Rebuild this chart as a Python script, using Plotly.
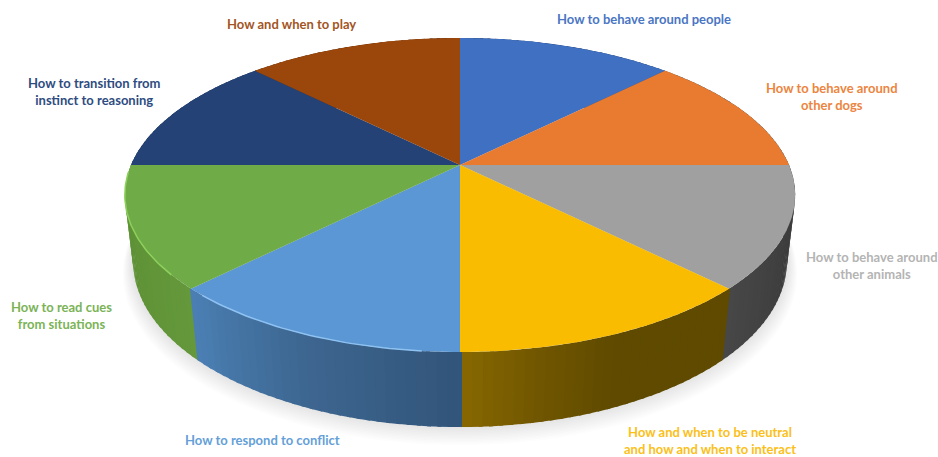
import math
import plotly.graph_objects as go

# Share of each topic, clockwise from twelve o'clock
topics = [
    "How to behave around people",
    "How to behave around<br>other dogs",
    "How to behave around<br>other animals",
    "How and when to be neutral<br>and how and when to interact",
    "How to respond to conflict",
    "How to read cues<br>from situations",
    "How to transition from<br>instinct to reasoning",
    "How and when to play",
]
shares = [12.5, 12.5, 12.5, 12.5, 12.5, 12.5, 12.5, 12.5]
top_colors = ["#4070C1", "#E97B30", "#A0A0A0", "#F9BC00",
              "#5A97D4", "#6FAC47", "#244275", "#9B470C"]
label_colors = ["#4A76C4", "#EC8540", "#B4B4B4", "#FBC018",
                "#659FD8", "#7BB356", "#2E4C80", "#A3551F"]
# Side wall shades, from the clockwise-start edge to the clockwise-end edge
wall_shades = [
    ["#2A4A80", "#2A4A80"],
    ["#5C5C5C", "#555555"],
    ["#3A3A3A", "#3D3D3D", "#474747"],
    ["#5F4A00", "#5F4A00", "#5F4A00", "#705600", "#866700"],
    ["#32557A", "#3D6690", "#4B80B5"],
    ["#64983B", "#5A8C32"],
    ["#18305A", "#18305A"],
    ["#6E3208", "#6E3208"],
]
rim_colors = [None, None, None, None, "#8EC2F2", "#8DD05C", None, None]
label_spots = [(644, 19), (832, 96.5), (872, 265.5), (710, 440),
               (262, 440), (61, 315), (94, 91.5), (291, 24)]

# Perspective parameters of the disc, in page pixels
CX, CY = 460.0, 165.0
RX, RY = 329.0, 151.3
TILT, DROP, THICK = 0.191, 67.1, 0.0245


def project(theta, radius=1.0, z=0.0):
    """Project a point of the disc (theta clockwise from the far side) to the page."""
    u = radius * math.sin(theta)
    v = radius * math.cos(theta)
    w = 1 + TILT * v + THICK * z
    return CX + RX * u / w, CY + (-RY * v + DROP * z) / w


def hex_rgb(code):
    return tuple(int(code[i:i + 2], 16) for i in (1, 3, 5))


def shade_at(stops, t):
    pos = t * (len(stops) - 1)
    i = min(int(pos), len(stops) - 2)
    a, b = hex_rgb(stops[i]), hex_rgb(stops[i + 1])
    f = pos - i
    return "rgb(%d,%d,%d)" % tuple(round(a[k] + (b[k] - a[k]) * f) for k in range(3))


def add_poly(fig, points, fill):
    fig.add_trace(go.Scatter(
        x=[p[0] for p in points], y=[p[1] for p in points],
        mode="lines", fill="toself", fillcolor=fill,
        line=dict(color=fill, width=0),
        hoverinfo="skip", showlegend=False,
    ))


total = sum(shares)
edges = [0.0]
for s in shares:
    edges.append(edges[-1] + 2 * math.pi * s / total)

fig = go.Figure()

# Soft cast shadow under the disc: stacked translucent copies of its footprint
LAYERS = 14
for k in range(LAYERS, 0, -1):
    grow = 1 + 0.0022 * k
    ring = []
    for n in range(181):
        x, y = project(2 * math.pi * n / 180, grow, 1.0)
        ring.append((x, y + 0.9 * k - 2))
    add_poly(fig, ring, "rgba(60,60,60,0.013)")

# Side walls, painted from the far side towards the viewer; each strip
# overlaps its neighbours slightly so that no seams show between them
OVERLAP = 0.005
STEPS = 30
strips = []
for i in range(len(shares)):
    a0, a1 = edges[i], edges[i + 1]
    for n in range(STEPS):
        t0, t1 = a0 + (a1 - a0) * n / STEPS, a0 + (a1 - a0) * (n + 1) / STEPS
        color = shade_at(wall_shades[i], (n + 0.5) / STEPS)
        strips.append((math.cos((t0 + t1) / 2), t0 - OVERLAP, t1 + OVERLAP, color))
strips.sort(key=lambda s: -s[0])
for _, t0, t1, color in strips:
    quad = [project(t0), project(t1), project(t1, 1, 1), project(t0, 1, 1), project(t0)]
    add_poly(fig, quad, color)

# Top face wedges
for i in range(len(shares)):
    a0, a1 = edges[i], edges[i + 1]
    arc = [project(a0 + (a1 - a0) * n / 48) for n in range(49)]
    add_poly(fig, [(CX, CY)] + arc + [(CX, CY)], top_colors[i])

# Bevel highlight along the lit front edge
for i, rim in enumerate(rim_colors):
    if rim:
        a0, a1 = edges[i], edges[i + 1]
        span = a1 - a0
        start = a0 + span * 0.12
        stop = a1 - span * 0.06
        arc = [project(start + (stop - start) * n / 40) for n in range(41)]
        fig.add_trace(go.Scatter(
            x=[p[0] for p in arc], y=[p[1] for p in arc], mode="lines",
            line=dict(color=rim, width=1.5), hoverinfo="skip", showlegend=False,
        ))

for text, spot, color in zip(topics, label_spots, label_colors):
    fig.add_annotation(
        x=spot[0], y=spot[1], xref="x", yref="y", text="<b>%s</b>" % text,
        showarrow=False, align="center", xanchor="center", yanchor="middle",
        font=dict(family="Lato", size=13, color=color),
    )

fig.update_layout(
    width=938, height=457, margin=dict(l=0, r=0, t=0, b=0),
    paper_bgcolor="white", plot_bgcolor="white", showlegend=False,
    xaxis=dict(range=[0, 938], visible=False, fixedrange=True),
    yaxis=dict(range=[457, 0], visible=False, fixedrange=True),
)
fig.write_html("out.html", config=dict(displayModeBar=False))
